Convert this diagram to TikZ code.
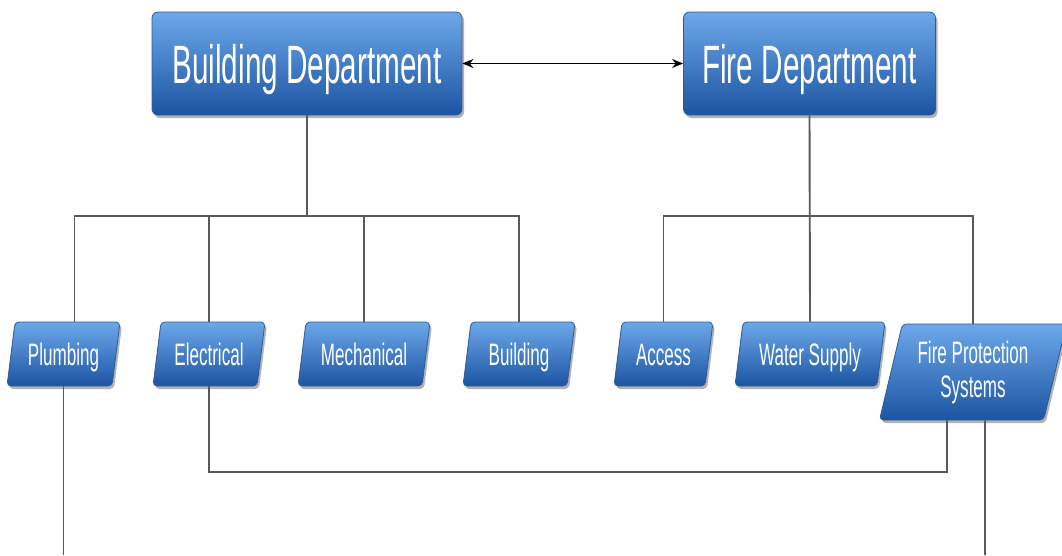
\documentclass[tikz,border=0pt]{standalone}
\usepackage{fontspec}
\setmainfont{Liberation Sans}[FakeStretch=0.55]
\usetikzlibrary{shapes.geometric,shadows,arrows.meta}
\definecolor{btop}{HTML}{6DA8EA}
\definecolor{bbot}{HTML}{1C54A2}
\definecolor{bedge}{HTML}{2A5B9C}
\definecolor{lnc}{HTML}{595959}
\begin{document}
\begin{tikzpicture}[x=1pt,y=-1pt,
  dept/.style={draw=bedge, line width=0.8pt, rounded corners=6pt,
    top color=btop, bottom color=bbot, minimum height=103pt, inner sep=0pt,
    text=white, font=\fontsize{54}{60}\selectfont, text height=40pt, text depth=0pt,
    drop shadow={shadow xshift=2pt,shadow yshift=-3pt,fill=black,opacity=0.3}},
  sub/.style={trapezium, trapezium left angle=70, trapezium right angle=110,
    trapezium stretches body, draw=bedge, line width=0.8pt, rounded corners=4pt,
    top color=btop, bottom color=bbot, minimum height=64pt, inner sep=0pt,
    text=white, font=\fontsize{31}{34}\selectfont,
    drop shadow={shadow xshift=2pt,shadow yshift=-3pt,fill=black,opacity=0.3}},
  onel/.style={text height=22pt, text depth=0pt},
  conn/.style={draw=lnc, line width=1.9pt},
  dbl/.style={{Stealth[length=11pt,width=9pt]}-{Stealth[length=11pt,width=9pt]}, line width=1.5pt, draw=black}]
\useasboundingbox (0,0) rectangle (1062,555);

\coordinate (bbar) at (307,216);
\coordinate (fbar) at (810,216);
\coordinate (lvl) at (0,472);
\coordinate (pe) at (64,555);
\coordinate (fe) at (985,555);

\node[dept, minimum width=310pt] (bd) at (307,63.5) {Building Department};
\node[dept, minimum width=252pt] (fd) at (809.5,63.5) {Fire Department};

\node[sub, onel, minimum width=113pt] (pl) at (63.5,354) {Plumbing};
\node[sub, onel, minimum width=112pt] (el) at (209,354) {Electrical};
\node[sub, onel, minimum width=132pt] (me) at (364,354) {Mechanical};
\node[sub, onel, minimum width=112pt] (bu) at (519,354) {Building};
\node[sub, onel, minimum width=99pt] (ac) at (663.5,354) {Access};
\node[sub, onel, minimum width=150pt] (ws) at (810,354) {Water Supply};
\node[sub, minimum width=187pt, minimum height=96pt, align=center] (fps) at (973,372) {Fire Protection\\Systems};

\draw[dbl] (bd.east) -- (fd.west);

\draw[conn] (bd.south) -- (bbar);
\draw[conn] ([xshift=11pt]pl.north) |- (bbar) -| (bu.north);
\draw[conn] (el.north) -- (el.north |- bbar);
\draw[conn] (me.north) -- (me.north |- bbar);

\draw[conn] (fd.south) -- (ws.north);
\draw[conn] (ac.north) |- (fbar) -| (fps.north);

\draw[conn] (el.south) -- (el.south |- lvl) -| ([xshift=-26pt]fps.south);
\draw[conn] (pl.south) -- (pl.south |- pe);
\draw[conn] ([xshift=12pt]fps.south) -- (fe);
\end{tikzpicture}
\end{document}
